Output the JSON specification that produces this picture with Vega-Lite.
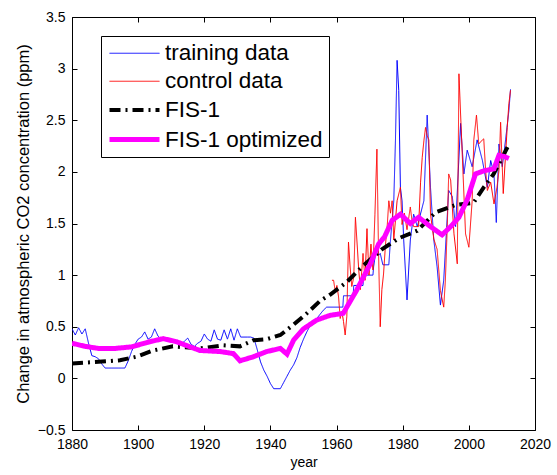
{
  "$schema": "https://vega.github.io/schema/vega-lite/v6.json",
  "autosize": "none",
  "width": 463,
  "height": 413,
  "padding": {"left": 72, "top": 17, "right": 22, "bottom": 45},
  "background": "white",
  "config": {
    "view": {"stroke": "black", "strokeWidth": 1},
    "font": "Liberation Sans",
    "axis": {"domainColor": "black", "tickColor": "black", "labelColor": "black", "titleColor": "black", "labelFont": "Liberation Sans", "titleFont": "Liberation Sans", "labelFontSize": 14, "grid": false, "tickSize": -5, "titleFontWeight": "normal", "labelFlush": false},
    "legend": {"orient": "none", "legendX": 29, "legendY": 19, "title": null, "symbolType": "M-1,0L4,0", "symbolSize": 400, "labelFontSize": 22.5, "labelLimit": 400, "labelFont": "Liberation Sans", "labelColor": "black", "labelOffset": 33, "strokeColor": "black", "fillColor": "white", "padding": 6, "rowPadding": 5}
  },
  "datasets": {
    "d": [
      {"series":"training data","year":1880,"value":0.48},{"series":"training data","year":1881,"value":0.42},{"series":"training data","year":1882,"value":0.49},{"series":"training data","year":1883,"value":0.43},{"series":"training data","year":1884,"value":0.48},{"series":"training data","year":1885,"value":0.34},{"series":"training data","year":1886,"value":0.22},{"series":"training data","year":1887,"value":0.21},{"series":"training data","year":1888,"value":0.19},{"series":"training data","year":1889,"value":0.14},{"series":"training data","year":1890,"value":0.10},{"series":"training data","year":1891,"value":0.10},{"series":"training data","year":1892,"value":0.10},{"series":"training data","year":1893,"value":0.10},{"series":"training data","year":1894,"value":0.10},{"series":"training data","year":1895,"value":0.10},{"series":"training data","year":1896,"value":0.10},{"series":"training data","year":1897,"value":0.17},{"series":"training data","year":1898,"value":0.26},{"series":"training data","year":1899,"value":0.33},{"series":"training data","year":1900,"value":0.38},{"series":"training data","year":1901,"value":0.40},{"series":"training data","year":1902,"value":0.45},{"series":"training data","year":1903,"value":0.38},{"series":"training data","year":1904,"value":0.40},{"series":"training data","year":1905,"value":0.48},{"series":"training data","year":1906,"value":0.41},{"series":"training data","year":1907,"value":0.38},{"series":"training data","year":1908,"value":0.37},{"series":"training data","year":1909,"value":0.36},{"series":"training data","year":1910,"value":0.36},{"series":"training data","year":1911,"value":0.35},{"series":"training data","year":1912,"value":0.34},{"series":"training data","year":1913,"value":0.33},{"series":"training data","year":1914,"value":0.36},{"series":"training data","year":1915,"value":0.39},{"series":"training data","year":1916,"value":0.33},{"series":"training data","year":1917,"value":0.31},{"series":"training data","year":1918,"value":0.34},{"series":"training data","year":1919,"value":0.36},{"series":"training data","year":1920,"value":0.43},{"series":"training data","year":1921,"value":0.38},{"series":"training data","year":1922,"value":0.36},{"series":"training data","year":1923,"value":0.47},{"series":"training data","year":1924,"value":0.38},{"series":"training data","year":1925,"value":0.37},{"series":"training data","year":1926,"value":0.47},{"series":"training data","year":1927,"value":0.38},{"series":"training data","year":1928,"value":0.48},{"series":"training data","year":1929,"value":0.37},{"series":"training data","year":1930,"value":0.48},{"series":"training data","year":1931,"value":0.40},{"series":"training data","year":1932,"value":0.40},{"series":"training data","year":1933,"value":0.40},{"series":"training data","year":1934,"value":0.40},{"series":"training data","year":1935,"value":0.39},{"series":"training data","year":1936,"value":0.28},{"series":"training data","year":1937,"value":0.16},{"series":"training data","year":1938,"value":0.08},{"series":"training data","year":1939,"value":0.02},{"series":"training data","year":1940,"value":-0.05},{"series":"training data","year":1941,"value":-0.10},{"series":"training data","year":1942,"value":-0.10},{"series":"training data","year":1943,"value":-0.10},{"series":"training data","year":1944,"value":-0.04},{"series":"training data","year":1945,"value":0.02},{"series":"training data","year":1946,"value":0.08},{"series":"training data","year":1947,"value":0.13},{"series":"training data","year":1948,"value":0.20},{"series":"training data","year":1949,"value":0.30},{"series":"training data","year":1950,"value":0.38},{"series":"training data","year":1951,"value":0.45},{"series":"training data","year":1952,"value":0.51},{"series":"training data","year":1953,"value":0.55},{"series":"training data","year":1954,"value":0.58},{"series":"training data","year":1955,"value":0.62},{"series":"training data","year":1956,"value":0.66},{"series":"training data","year":1957,"value":0.69},{"series":"training data","year":1959,"value":0.69},{"series":"training data","year":1961.9,"value":0.69},{"series":"training data","year":1962.1,"value":0.80},{"series":"training data","year":1965.0,"value":0.80},{"series":"training data","year":1965.2,"value":0.90},{"series":"training data","year":1968.0,"value":0.90},{"series":"training data","year":1968.2,"value":1.00},{"series":"training data","year":1971.0,"value":1.00},{"series":"training data","year":1971.2,"value":1.08},{"series":"training data","year":1971.7,"value":1.19},{"series":"training data","year":1972.2,"value":1.30},{"series":"training data","year":1972.7,"value":1.19},{"series":"training data","year":1973.2,"value":1.21},{"series":"training data","year":1974.0,"value":1.10},{"series":"training data","year":1975.8,"value":1.10},{"series":"training data","year":1976.3,"value":1.34},{"series":"training data","year":1977.3,"value":1.72},{"series":"training data","year":1977.8,"value":2.30},{"series":"training data","year":1978.3,"value":3.08},{"series":"training data","year":1978.8,"value":2.79},{"series":"training data","year":1979.3,"value":1.85},{"series":"training data","year":1979.8,"value":1.72},{"series":"training data","year":1980.3,"value":1.34},{"series":"training data","year":1981.3,"value":0.76},{"series":"training data","year":1982.3,"value":1.34},{"series":"training data","year":1983.3,"value":1.59},{"series":"training data","year":1984.4,"value":1.47},{"series":"training data","year":1986.4,"value":1.72},{"series":"training data","year":1987.4,"value":2.55},{"series":"training data","year":1988.4,"value":1.85},{"series":"training data","year":1989.4,"value":1.34},{"series":"training data","year":1990.4,"value":1.08},{"series":"training data","year":1991.4,"value":0.71},{"series":"training data","year":1992.4,"value":0.95},{"series":"training data","year":1993.9,"value":1.82},{"series":"training data","year":1995.0,"value":1.76},{"series":"training data","year":1996.0,"value":1.47},{"series":"training data","year":1997.5,"value":2.47},{"series":"training data","year":1998.5,"value":1.98},{"series":"training data","year":1999.5,"value":2.21},{"series":"training data","year":2001.0,"value":2.05},{"series":"training data","year":2002.5,"value":2.31},{"series":"training data","year":2004.1,"value":2.11},{"series":"training data","year":2005.6,"value":1.85},{"series":"training data","year":2006.6,"value":2.11},{"series":"training data","year":2007.6,"value":1.98},{"series":"training data","year":2008.3,"value":1.51},{"series":"training data","year":2009.1,"value":2.27},{"series":"training data","year":2010.1,"value":2.05},{"series":"training data","year":2011.1,"value":2.31},{"series":"training data","year":2012.1,"value":2.59},{"series":"training data","year":2012.6,"value":2.80},
      {"series":"control data","year":1958.6,"value":0.95},{"series":"control data","year":1959.1,"value":0.95},{"series":"control data","year":1959.6,"value":0.84},{"series":"control data","year":1960.1,"value":0.90},{"series":"control data","year":1960.6,"value":0.79},{"series":"control data","year":1961.1,"value":0.58},{"series":"control data","year":1961.6,"value":0.65},{"series":"control data","year":1962.1,"value":0.55},{"series":"control data","year":1962.6,"value":0.42},{"series":"control data","year":1963.1,"value":0.60},{"series":"control data","year":1963.6,"value":1.32},{"series":"control data","year":1964.1,"value":1.08},{"series":"control data","year":1964.6,"value":0.89},{"series":"control data","year":1965.2,"value":0.98},{"series":"control data","year":1965.7,"value":1.56},{"series":"control data","year":1966.2,"value":1.31},{"series":"control data","year":1966.7,"value":1.05},{"series":"control data","year":1967.2,"value":0.86},{"series":"control data","year":1968.0,"value":1.21},{"series":"control data","year":1968.6,"value":0.95},{"series":"control data","year":1969.2,"value":1.45},{"series":"control data","year":1969.8,"value":1.00},{"series":"control data","year":1970.4,"value":1.30},{"series":"control data","year":1971.0,"value":1.05},{"series":"control data","year":1971.6,"value":1.59},{"series":"control data","year":1972.2,"value":2.22},{"series":"control data","year":1972.7,"value":1.20},{"series":"control data","year":1973.2,"value":0.50},{"series":"control data","year":1973.7,"value":0.86},{"series":"control data","year":1974.2,"value":1.01},{"series":"control data","year":1974.8,"value":1.30},{"series":"control data","year":1975.3,"value":1.47},{"series":"control data","year":1975.8,"value":1.72},{"series":"control data","year":1976.3,"value":1.60},{"series":"control data","year":1976.8,"value":1.72},{"series":"control data","year":1977.3,"value":1.34},{"series":"control data","year":1978.3,"value":1.72},{"series":"control data","year":1979.3,"value":1.85},{"series":"control data","year":1979.8,"value":1.49},{"series":"control data","year":1980.5,"value":1.60},{"series":"control data","year":1981.3,"value":1.44},{"series":"control data","year":1982.3,"value":1.66},{"series":"control data","year":1982.8,"value":1.53},{"series":"control data","year":1983.3,"value":1.47},{"series":"control data","year":1984.8,"value":1.47},{"series":"control data","year":1985.4,"value":1.90},{"series":"control data","year":1985.9,"value":2.14},{"series":"control data","year":1986.4,"value":2.30},{"series":"control data","year":1986.9,"value":2.43},{"series":"control data","year":1987.4,"value":2.35},{"series":"control data","year":1987.9,"value":2.31},{"series":"control data","year":1988.4,"value":1.59},{"series":"control data","year":1989.4,"value":1.35},{"series":"control data","year":1990.4,"value":1.25},{"series":"control data","year":1990.9,"value":1.05},{"series":"control data","year":1991.4,"value":0.85},{"series":"control data","year":1992.4,"value":0.69},{"series":"control data","year":1992.9,"value":0.95},{"series":"control data","year":1993.5,"value":1.50},{"series":"control data","year":1993.9,"value":1.98},{"series":"control data","year":1994.5,"value":1.92},{"series":"control data","year":1995.5,"value":1.40},{"series":"control data","year":1996.5,"value":1.11},{"series":"control data","year":1997.0,"value":2.95},{"series":"control data","year":1998.0,"value":2.17},{"series":"control data","year":1999.0,"value":1.40},{"series":"control data","year":2000.0,"value":1.27},{"series":"control data","year":2001.0,"value":1.72},{"series":"control data","year":2001.5,"value":2.31},{"series":"control data","year":2002.3,"value":2.55},{"series":"control data","year":2003.0,"value":2.27},{"series":"control data","year":2004.1,"value":2.31},{"series":"control data","year":2004.5,"value":2.32},{"series":"control data","year":2005.1,"value":2.00},{"series":"control data","year":2005.6,"value":1.82},{"series":"control data","year":2006.6,"value":1.90},{"series":"control data","year":2007.6,"value":1.69},{"series":"control data","year":2008.5,"value":1.85},{"series":"control data","year":2009.1,"value":2.01},{"series":"control data","year":2009.6,"value":2.48},{"series":"control data","year":2010.4,"value":1.79},{"series":"control data","year":2011.1,"value":2.17},{"series":"control data","year":2011.6,"value":2.43},{"series":"control data","year":2012.1,"value":2.66},{"series":"control data","year":2012.6,"value":2.79},
      {"series":"FIS-1","year":1880,"value":0.145},{"series":"FIS-1","year":1888,"value":0.16},{"series":"FIS-1","year":1894.5,"value":0.175},{"series":"FIS-1","year":1899.5,"value":0.21},{"series":"FIS-1","year":1904.5,"value":0.27},{"series":"FIS-1","year":1910.5,"value":0.31},{"series":"FIS-1","year":1918.7,"value":0.29},{"series":"FIS-1","year":1925.7,"value":0.32},{"series":"FIS-1","year":1930.8,"value":0.31},{"series":"FIS-1","year":1934.9,"value":0.37},{"series":"FIS-1","year":1938.9,"value":0.38},{"series":"FIS-1","year":1943,"value":0.42},{"series":"FIS-1","year":1947,"value":0.52},{"series":"FIS-1","year":1951,"value":0.63},{"series":"FIS-1","year":1955,"value":0.75},{"series":"FIS-1","year":1958,"value":0.81},{"series":"FIS-1","year":1963,"value":0.93},{"series":"FIS-1","year":1968,"value":1.09},{"series":"FIS-1","year":1973.7,"value":1.25},{"series":"FIS-1","year":1979,"value":1.36},{"series":"FIS-1","year":1984.4,"value":1.43},{"series":"FIS-1","year":1990,"value":1.61},{"series":"FIS-1","year":1996,"value":1.68},{"series":"FIS-1","year":2001.4,"value":1.70},{"series":"FIS-1","year":2004.5,"value":1.85},{"series":"FIS-1","year":2007.5,"value":1.98},{"series":"FIS-1","year":2009.6,"value":2.11},{"series":"FIS-1","year":2011.7,"value":2.24},
      {"series":"FIS-1 optimized","year":1880,"value":0.34},{"series":"FIS-1 optimized","year":1884,"value":0.31},{"series":"FIS-1 optimized","year":1888,"value":0.29},{"series":"FIS-1 optimized","year":1893,"value":0.29},{"series":"FIS-1 optimized","year":1898,"value":0.305},{"series":"FIS-1 optimized","year":1903.5,"value":0.355},{"series":"FIS-1 optimized","year":1907.6,"value":0.385},{"series":"FIS-1 optimized","year":1911.6,"value":0.355},{"series":"FIS-1 optimized","year":1915.7,"value":0.305},{"series":"FIS-1 optimized","year":1918.7,"value":0.27},{"series":"FIS-1 optimized","year":1924.8,"value":0.26},{"series":"FIS-1 optimized","year":1928.8,"value":0.24},{"series":"FIS-1 optimized","year":1930.8,"value":0.17},{"series":"FIS-1 optimized","year":1934.9,"value":0.21},{"series":"FIS-1 optimized","year":1938.9,"value":0.26},{"series":"FIS-1 optimized","year":1943,"value":0.29},{"series":"FIS-1 optimized","year":1945,"value":0.235},{"series":"FIS-1 optimized","year":1947,"value":0.37},{"series":"FIS-1 optimized","year":1950,"value":0.48},{"series":"FIS-1 optimized","year":1954,"value":0.565},{"series":"FIS-1 optimized","year":1958,"value":0.61},{"series":"FIS-1 optimized","year":1962,"value":0.63},{"series":"FIS-1 optimized","year":1966,"value":0.85},{"series":"FIS-1 optimized","year":1970.2,"value":1.11},{"series":"FIS-1 optimized","year":1972.7,"value":1.30},{"series":"FIS-1 optimized","year":1974.5,"value":1.37},{"series":"FIS-1 optimized","year":1976.8,"value":1.53},{"series":"FIS-1 optimized","year":1979.3,"value":1.59},{"series":"FIS-1 optimized","year":1982.3,"value":1.50},{"series":"FIS-1 optimized","year":1984.8,"value":1.56},{"series":"FIS-1 optimized","year":1988.4,"value":1.47},{"series":"FIS-1 optimized","year":1991.9,"value":1.39},{"series":"FIS-1 optimized","year":1994.5,"value":1.47},{"series":"FIS-1 optimized","year":1997,"value":1.56},{"series":"FIS-1 optimized","year":1999.5,"value":1.73},{"series":"FIS-1 optimized","year":2002,"value":1.98},{"series":"FIS-1 optimized","year":2004.5,"value":2.01},{"series":"FIS-1 optimized","year":2007.6,"value":2.03},{"series":"FIS-1 optimized","year":2009.1,"value":2.16},{"series":"FIS-1 optimized","year":2010.6,"value":2.15},{"series":"FIS-1 optimized","year":2012.1,"value":2.13}
    ]
  },
  "data": {"name": "d"},
  "layer": [
    {
      "mark": {"type": "line", "clip": true},
      "encoding": {
        "x": {"field": "year", "type": "quantitative", "scale": {"domain": [1880, 2020], "nice": false, "zero": false},
              "axis": {"values": [1880,1900,1920,1940,1960,1980,2000,2020], "format": "d", "title": "year", "titleFontSize": 14, "labelPadding": 12, "titlePadding": 4, "domain": false}},
        "y": {"field": "value", "type": "quantitative", "scale": {"domain": [-0.5, 3.5], "nice": false, "zero": false},
              "axis": {"values": [-0.5,0,0.5,1,1.5,2,2.5,3,3.5], "format": "~g", "title": "Change in atmospheric CO2 concentration (ppm)", "titleFontSize": 16.5, "labelPadding": 12, "titlePadding": 6, "domain": false}},
        "color": {"field": "series", "type": "nominal",
                  "scale": {"domain": ["training data","control data","FIS-1","FIS-1 optimized"], "range": ["#0000ff","#ff0000","#000000","#ff00ff"]}},
        "strokeDash": {"field": "series", "type": "nominal",
                  "scale": {"domain": ["training data","control data","FIS-1","FIS-1 optimized"], "range": [[1,0],[1,0],[11,5,2,5],[1,0]]}},
        "strokeWidth": {"field": "series", "type": "nominal",
                  "scale": {"type": "ordinal", "domain": ["training data","control data","FIS-1","FIS-1 optimized"], "range": [1, 1, 4, 5]}}
      }
    },
    {
      "mark": {"type": "line", "opacity": 0},
      "encoding": {
        "x": {"field": "year", "type": "quantitative", "scale": {"domain": [1880, 2020], "nice": false, "zero": false}, "axis": {"orient": "top", "values": [1880,1900,1920,1940,1960,1980,2000,2020], "labels": false, "title": null, "domain": false}},
        "y": {"field": "value", "type": "quantitative", "scale": {"domain": [-0.5, 3.5], "nice": false, "zero": false}, "axis": {"orient": "right", "values": [-0.5,0,0.5,1,1.5,2,2.5,3,3.5], "labels": false, "title": null, "domain": false}},
        "detail": {"field": "series"}
      }
    }
  ],
  "resolve": {"axis": {"x": "independent", "y": "independent"}}
}
